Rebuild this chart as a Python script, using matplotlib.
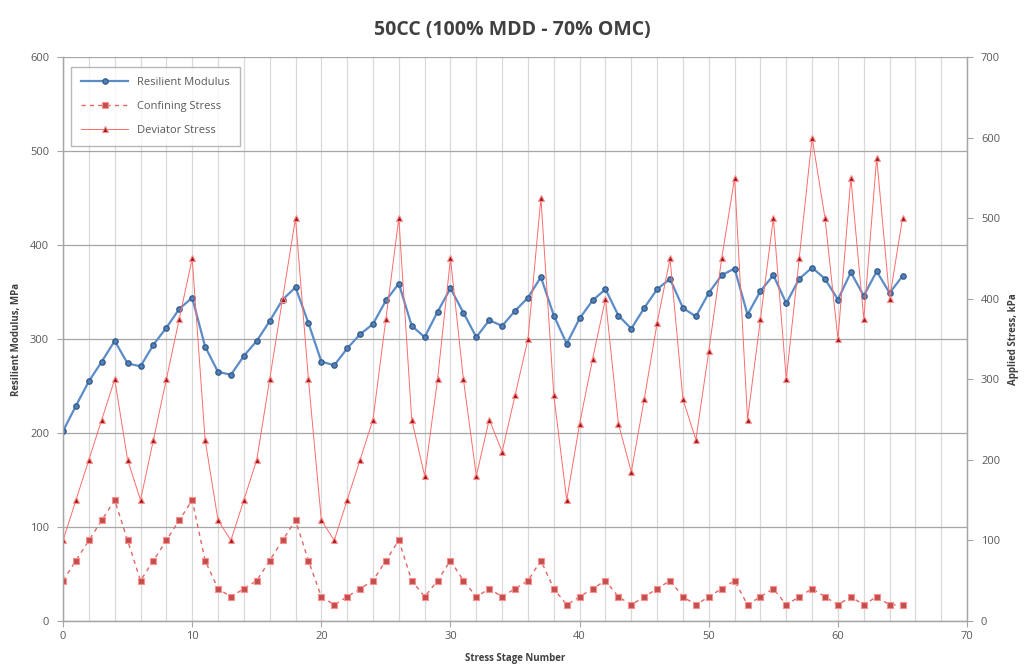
import matplotlib
matplotlib.use('Agg')
import matplotlib.pyplot as plt
import numpy as np

plt.rcParams['font.family'] = ['Open Sans', 'DejaVu Sans']

stages = list(range(66))

resilient_modulus = [202, 229, 255, 276, 298, 274, 271, 294, 312, 332,
                     344, 292, 265, 262, 282, 298, 319, 342, 355, 317,
                     276, 272, 290, 305, 316, 341, 359, 314, 302, 329,
                     354, 328, 302, 320, 314, 330, 344, 366, 325, 295,
                     322, 341, 353, 325, 311, 333, 353, 364, 333, 324,
                     349, 368, 375, 326, 351, 368, 338, 364, 376, 364,
                     342, 371, 346, 372, 349, 367]

confining_stress = [50, 75, 100, 125, 150, 100, 50, 75, 100, 125,
                    150, 75, 40, 30, 40, 50, 75, 100, 125, 75,
                    30, 20, 30, 40, 50, 75, 100, 50, 30, 50,
                    75, 50, 30, 40, 30, 40, 50, 75, 40, 20,
                    30, 40, 50, 30, 20, 30, 40, 50, 30, 20,
                    30, 40, 50, 20, 30, 40, 20, 30, 40, 30,
                    20, 30, 20, 30, 20, 20]

deviator_stress = [100, 150, 200, 250, 300, 200, 150, 225, 300, 375,
                   450, 225, 125, 100, 150, 200, 300, 400, 500, 300,
                   125, 100, 150, 200, 250, 375, 500, 250, 180, 300,
                   450, 300, 180, 250, 210, 280, 350, 525, 280, 150,
                   245, 325, 400, 245, 185, 275, 370, 450, 275, 225,
                   335, 450, 550, 250, 375, 500, 300, 450, 600, 500,
                   350, 550, 375, 575, 400, 500]

fig = plt.figure(figsize=(10.25, 6.72), dpi=100)
ax = fig.add_axes([0.0615, 0.076, 0.882, 0.839])
ax2 = ax.twinx()

# gridlines
ax.set_xticks(np.arange(0, 71, 2), minor=True)
ax.grid(True, which='minor', axis='x', color='#d9d9d9', lw=0.9)
ax.grid(True, which='major', axis='x', color='#d9d9d9', lw=0.9)
ax.grid(True, which='major', axis='y', color='#a6a6a6', lw=0.9)
ax.set_axisbelow(True)

l1, = ax.plot(stages, resilient_modulus, color='#5b8cc8', lw=1.6,
              marker='o', ms=3.8, mfc='#4f81bd', mec='#385d8a', zorder=5)
l2, = ax2.plot(stages, confining_stress, color='#e06666', lw=1.0, ls=(0, (3, 3)),
               marker='s', ms=5, mfc='#c0504d', mec='#ff8f8f', mew=0.8)
l3, = ax2.plot(stages, deviator_stress, color='#ff6b6b', lw=0.7,
               marker='^', ms=5, mfc='#9b1b1b', mec='#ff8f8f', mew=0.8)

ax.set_xlim(0, 70)
ax.set_ylim(0, 600)
ax2.set_ylim(0, 700)
ax.set_xticks(np.arange(0, 71, 10))
ax.set_yticks(np.arange(0, 601, 100))
ax2.set_yticks(np.arange(0, 701, 100))

for a in (ax, ax2):
    for s in a.spines.values():
        s.set_color('#a6a6a6')
        s.set_linewidth(0.9)
    a.tick_params(colors='#a6a6a6', labelcolor='#595959', labelsize=8, length=4)
ax.tick_params(axis='x', which='minor', length=0)
ax.tick_params(axis='y', pad=6)
ax2.tick_params(axis='y', pad=6)
ax.spines['top'].set_visible(False)
ax2.spines['top'].set_visible(False)

ax.set_xlabel('Stress Stage Number', fontsize=7, fontweight='bold', color='#404040', labelpad=8)
ax.set_ylabel('Resilient Modulus, MPa', fontsize=7, fontweight='bold', color='#404040', labelpad=6)
ax2.set_ylabel('Applied Stress, kPa', fontsize=7, fontweight='bold', color='#404040', labelpad=6)

fig.suptitle('50CC (100% MDD - 70% OMC)', fontsize=14, fontweight='bold',
             color='#404040', y=0.97)

leg = ax.legend([l1, l2, l3], ['Resilient Modulus', 'Confining Stress', 'Deviator Stress'],
                loc='upper left', bbox_to_anchor=(0.003, 0.993), fontsize=8,
                frameon=True, fancybox=False, edgecolor='#a6a6a6',
                borderpad=0.9, labelspacing=1.2, handlelength=4.2)
leg.get_frame().set_linewidth(1.0)
for t in leg.get_texts():
    t.set_color('#595959')
leg.set_zorder(10)

fig.savefig('out.png', dpi=100, facecolor='white')
